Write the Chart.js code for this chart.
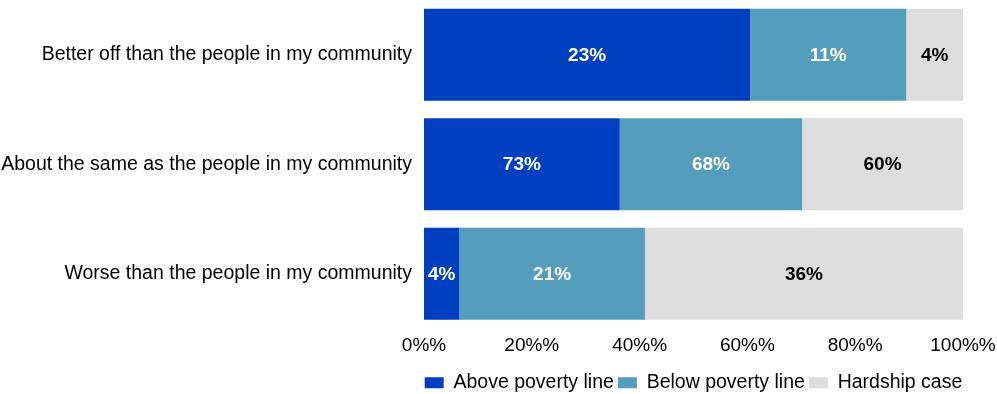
<!DOCTYPE html>
<html>
<head>
<meta charset="utf-8">
<script src="https://cdn.jsdelivr.net/npm/chart.js@4"></script>
<style>
  html, body { margin: 0; padding: 0; background: #fff; }
  #wrap { width: 997px; height: 394px; position: relative; }
</style>
</head>
<body>
<div id="wrap"><canvas id="povChart"></canvas></div>
<script>
// --- data ---
const categories = [
  "Better off than the people in my community",
  "About the same as the people in my community",
  "Worse than the people in my community"
];
const seriesNames = ["Above poverty line", "Below poverty line", "Hardship case"];
const abovePoverty = [23, 73, 4];
const belowPoverty = [11, 68, 21];
const hardship = [4, 60, 36];
const xTicks = [0, 20, 40, 60, 80, 100];

const colors = ["#0040C0", "#559DBC", "#DDDDDD"];
const labelColors = ["#ffffff", "#ffffff", "#000000"];

// each row is drawn as share of its own total (100% stacked)
const raw = [abovePoverty, belowPoverty, hardship];
const rowTotals = categories.map((_, i) => raw.reduce((s, arr) => s + arr[i], 0));
const shares = raw.map(arr => arr.map((v, i) => v / rowTotals[i] * 100));

const FONT = "'Liberation Sans', Arial, sans-serif";

// labels inside segments show the raw numbers
const segmentLabels = {
  id: "segmentLabels",
  afterDatasetsDraw(chart) {
    const ctx = chart.ctx;
    ctx.save();
    ctx.font = "bold 19px " + FONT;
    ctx.textAlign = "center";
    ctx.textBaseline = "middle";
    chart.data.datasets.forEach((ds, di) => {
      const meta = chart.getDatasetMeta(di);
      meta.data.forEach((bar, i) => {
        const cx = (bar.x + bar.base) / 2;
        ctx.fillStyle = labelColors[di];
        ctx.fillText(raw[di][i] + "%", cx, bar.y + 1);
      });
    });
    ctx.restore();
  }
};

// legend: fixed height, centered under the plot area
const legendTweak = {
  id: "legendTweak",
  beforeLayout(chart) {
    const lg = chart.legend;
    if (lg && !lg._tweaked) {
      const origFit = lg.fit.bind(lg);
      lg.fit = function () {
        origFit();
        this.height = 25;
      };
      lg._tweaked = true;
    }
  },
  afterLayout(chart) {
    if (chart.legend) {
      chart.legend.left = chart.chartArea.left - 30;
      chart.legend.right = chart.chartArea.right + 30;
    }
  }
};

new Chart(document.getElementById("povChart"), {
  type: "bar",
  data: {
    labels: categories,
    datasets: seriesNames.map((name, k) => ({
      label: name,
      data: shares[k],
      backgroundColor: colors[k],
      borderWidth: 0,
      categoryPercentage: 0.84,
      barPercentage: 1.0
    }))
  },
  options: {
    indexAxis: "y",
    responsive: true,
    maintainAspectRatio: false,
    animation: false,
    layout: { padding: 0 },
    scales: {
      x: {
        stacked: true,
        min: 0,
        max: 100,
        afterBuildTicks: (axis) => { axis.ticks = xTicks.map(v => ({ value: v })); },
        ticks: {
          color: "#000",
          font: { family: FONT, size: 19 },
          padding: 6,
          callback: (v) => v + "%%"
        },
        grid: { display: false, drawTicks: false },
        border: { display: false },
        afterFit: (axis) => {
          axis.paddingRight = 34;
          axis.height = 40.5;
        }
      },
      y: {
        stacked: true,
        ticks: {
          color: "#000",
          font: { family: FONT, size: 19.5 },
          padding: 12
        },
        grid: { display: false, drawTicks: false },
        border: { display: false },
        afterFit: (axis) => {
          axis.width = 424;
          axis.paddingTop = 0;
          axis.paddingBottom = 0;
        }
      }
    },
    plugins: {
      legend: {
        position: "bottom",
        labels: {
          color: "#000",
          font: { family: FONT, size: 19.5 },
          boxWidth: 19,
          boxHeight: 11,
          padding: 4
        }
      },
      tooltip: { enabled: false }
    }
  },
  plugins: [segmentLabels, legendTweak]
});
</script>
</body>
</html>
